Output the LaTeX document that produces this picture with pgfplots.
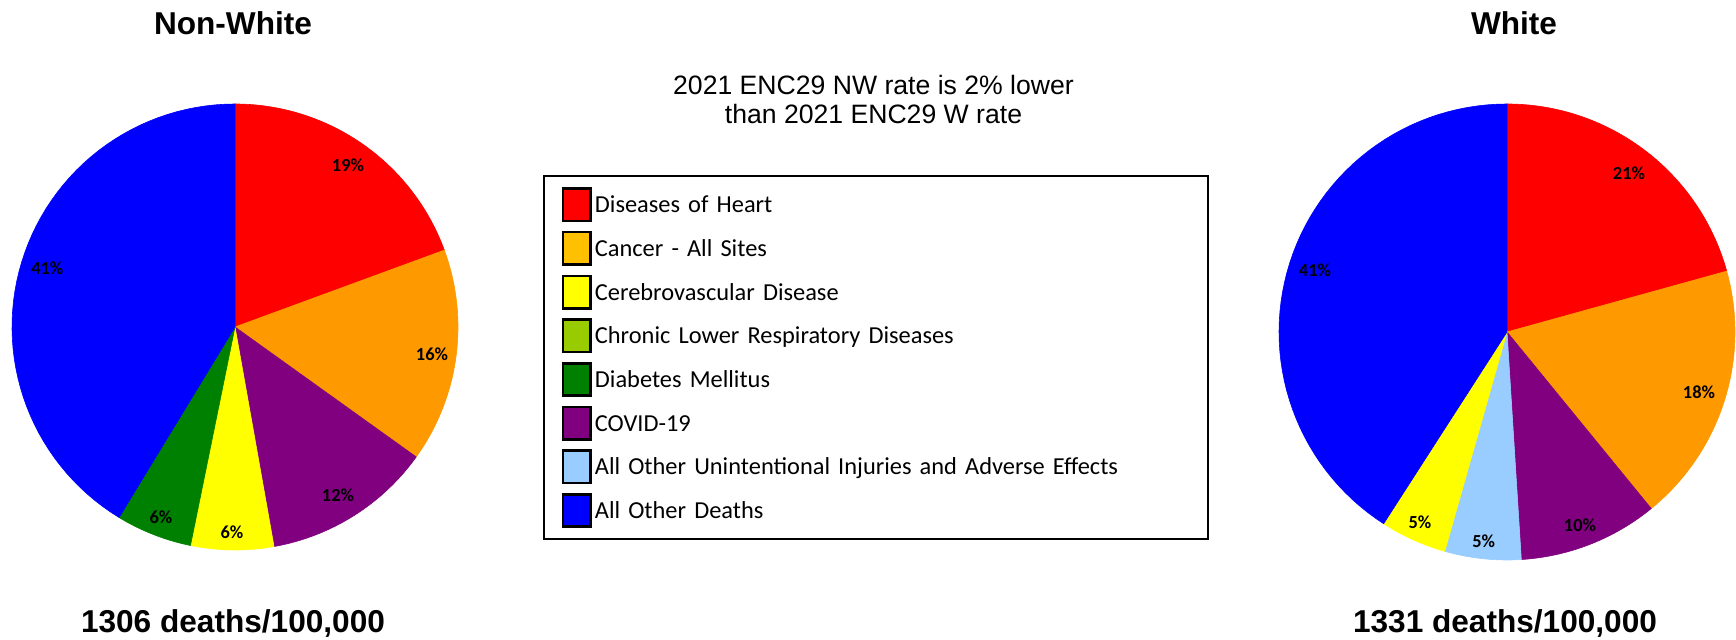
\documentclass[border=0pt]{standalone}
\usepackage{pgfplots}
\pgfplotsset{compat=1.18}
\usepackage{fontspec}
\setmainfont{Liberation Sans}
\newfontfamily\calibri{Carlito}
\definecolor{cHeart}{HTML}{FF0000}
\definecolor{cCancerPie}{HTML}{FF9900}
\definecolor{cCancerLeg}{HTML}{FFC000}
\definecolor{cCereb}{HTML}{FFFF00}
\definecolor{cCLRD}{HTML}{99CC00}
\definecolor{cDiab}{HTML}{008000}
\definecolor{cCovid}{HTML}{800080}
\definecolor{cInj}{HTML}{99CCFF}
\definecolor{cOther}{HTML}{0000FF}
\newcommand\pielab{\calibri\bfseries\fontsize{9.2}{11}\selectfont}
\newcommand\titlefont{\bfseries\fontsize{15.8}{19}\selectfont}
\newcommand\midfont{\fontsize{13.3}{14.5}\selectfont}
\pgfplotsset{swatch/.style={legend image code/.code={\draw[##1, draw=black, line width=1.3pt] (0pt,-8.1pt) rectangle (13.7pt,8.1pt);}}}
% #1 cx, #2 cy, #3 r, #4 from (%), #5 to (%), #6 colour, #7 label, #8 #9 label position
\newcommand{\pieslice}[9]{%
  \pgfmathsetmacro\psA{#4*3.6}%
  \pgfmathsetmacro\psB{#5*3.6}%
  \edef\psDo{\noexpand\addplot[draw=#6, line width=0.3pt, fill=#6, domain=\psA:\psB, samples=60, forget plot] ({#1+#3*sin(x)},{#2+#3*cos(x)}) -- (axis cs:#1,#2) -- cycle;}%
  \psDo
  \node[font=\pielab] at (axis cs:#8,#9) {#7};%
}
\begin{document}
\begin{tikzpicture}
\useasboundingbox (0,0) rectangle (868pt,320pt);
\begin{axis}[at={(0pt,0pt)}, anchor=south west, scale only axis,
  width=868pt, height=320pt, xmin=0, xmax=1736, ymin=0, ymax=640,
  hide axis, clip=false, legend cell align=left,
  legend style={at={(0.31256,0.72656)}, anchor=north west, draw=black, line width=1.2pt,
    fill=white, inner xsep=8.95pt, inner ysep=3.3pt, row sep=0pt, column sep=1.6pt,
    font=\calibri\fontsize{12.2}{14}\selectfont,
    nodes={inner sep=0pt, minimum height=21.85pt, text width=297.5pt, align=left,
      text height=8pt, text depth=0pt, anchor=west}}]
% Non-White pie (percent boundaries, clockwise from top)
\pieslice{235}{313}{223}{0}{19.4}{cHeart}{19\%}{348}{474.5}
\pieslice{235}{313}{223}{19.4}{34.9}{cCancerPie}{16\%}{432}{285.3}
\pieslice{235}{313}{223}{34.9}{47.2}{cCovid}{12\%}{338}{144.3}
\pieslice{235}{313}{223}{47.2}{53.2}{cCereb}{6\%}{232}{107.5}
\pieslice{235}{313}{223}{53.2}{58.7}{cDiab}{6\%}{161}{123}
\pieslice{235}{313}{223}{58.7}{100}{cOther}{41\%}{47.3}{371.5}
% White pie
\pieslice{1507}{308}{228}{0}{20.7}{cHeart}{21\%}{1629}{466.3}
\pieslice{1507}{308}{228}{20.7}{39.1}{cCancerPie}{18\%}{1699}{247.7}
\pieslice{1507}{308}{228}{39.1}{49.0}{cCovid}{10\%}{1580}{115}
\pieslice{1507}{308}{228}{49.0}{54.4}{cInj}{5\%}{1483.7}{98.5}
\pieslice{1507}{308}{228}{54.4}{59.1}{cCereb}{5\%}{1420}{117.7}
\pieslice{1507}{308}{228}{59.1}{100}{cOther}{41\%}{1315}{369.5}
% legend
\addlegendimage{swatch, fill=cHeart}\addlegendentry{Diseases of Heart}
\addlegendimage{swatch, fill=cCancerLeg}\addlegendentry{Cancer - All Sites}
\addlegendimage{swatch, fill=cCereb}\addlegendentry{Cerebrovascular Disease}
\addlegendimage{swatch, fill=cCLRD}\addlegendentry{Chronic Lower Respiratory Diseases}
\addlegendimage{swatch, fill=cDiab}\addlegendentry{Diabetes Mellitus}
\addlegendimage{swatch, fill=cCovid}\addlegendentry{COVID-19}
\addlegendimage{swatch, fill=cInj}\addlegendentry{All Other Unintentional Injuries and Adverse Effects}
\addlegendimage{swatch, fill=cOther}\addlegendentry{All Other Deaths}
% texts
\node[font=\titlefont, anchor=base] at (axis cs:233,605.3) {Non-White};
\node[font=\titlefont, anchor=base] at (axis cs:1514,605.3) {White};
\node[font=\titlefont, anchor=base] at (axis cs:233,7) {1306 deaths/100,000};
\node[font=\titlefont, anchor=base] at (axis cs:1505,7) {1331 deaths/100,000};
\node[font=\midfont, anchor=base] at (axis cs:873.5,545.7) {2021 ENC29 NW rate is 2\% lower};
\node[font=\midfont, anchor=base] at (axis cs:873.5,516.7) {than 2021 ENC29 W rate};
\end{axis}
\end{tikzpicture}
\end{document}
